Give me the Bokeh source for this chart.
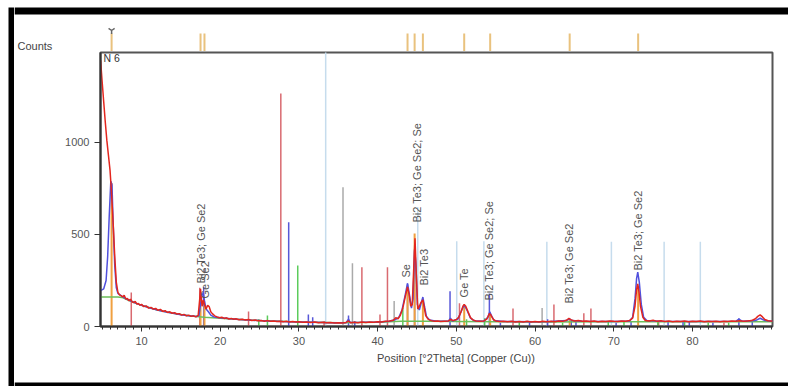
import math
from bokeh.plotting import figure
from bokeh.models import Range1d, FixedTicker, Label, BoxAnnotation, ColumnDataSource
from bokeh.layouts import column, row
from bokeh.embed import file_html
from bokeh.resources import INLINE
from bokeh.core.properties import value

# ---------------- data ----------------
meas_2theta = [4.8, 5.0, 5.2, 5.4, 5.6, 5.8, 6.0, 6.2, 6.4, 6.6, 6.8, 7.0, 7.2, 7.4, 7.6, 7.8,
               8.0, 8.2, 8.4, 8.6, 8.8, 9.0, 9.2, 9.4, 9.6, 9.8, 10.0, 10.3, 10.6, 10.9, 11.2,
               11.5, 11.8, 12.1, 12.4, 12.7, 13.0, 13.3, 13.6, 13.9, 14.2, 14.5, 14.8, 15.1,
               15.4, 15.7, 16.0, 16.3, 16.6, 16.9, 17.2, 17.4, 17.5, 17.6, 17.7, 17.85, 18.0,
               18.2, 18.4, 18.6, 18.8, 19.0, 19.3, 19.6, 19.9, 20.2, 20.5, 20.8, 21.1, 21.4,
               21.7, 22.0, 22.4, 22.8, 23.2, 23.6, 24.0, 24.4, 24.8, 25.2, 25.6, 26.0, 26.4,
               26.8, 27.2, 27.6, 28.0, 28.4, 28.8, 29.2, 29.6, 30.0, 30.5, 31.0, 31.5, 32.0,
               32.5, 33.0, 33.5, 34.0, 34.5, 35.0, 35.5, 36.0, 36.3, 36.6, 37.0, 37.5, 38.0,
               38.5, 39.0, 39.5, 40.0, 40.5, 41.0, 41.5, 42.0, 42.3, 42.6, 42.9, 43.2, 43.5,
               43.8, 44.0, 44.2, 44.4, 44.6, 44.75, 44.9, 45.1, 45.3, 45.5, 45.75, 45.9, 46.1,
               46.4, 46.8, 47.2, 47.6, 48.0, 48.5, 49.0, 49.3, 49.6, 50.0, 50.3, 50.6, 50.85,
               51.0, 51.2, 51.5, 51.8, 52.1, 52.5, 53.0, 53.5, 53.9, 54.2, 54.4, 54.7, 55.0,
               55.5, 56.0, 56.5, 57.0, 57.5, 58.0, 58.5, 59.0, 59.5, 60.0, 60.5, 61.0, 61.5,
               62.0, 62.5, 63.0, 63.5, 64.0, 64.3, 64.6, 65.0, 65.5, 66.0, 66.5, 67.0, 67.5,
               68.0, 68.5, 69.0, 69.5, 70.0, 70.5, 71.0, 71.5, 72.0, 72.4, 72.7, 72.9, 73.05,
               73.2, 73.4, 73.7, 74.0, 74.5, 75.0, 75.5, 76.0, 76.5, 77.0, 77.5, 78.0, 78.5,
               79.0, 79.5, 80.0, 80.5, 81.0, 81.5, 82.0, 82.5, 83.0, 83.5, 84.0, 84.5, 85.0,
               85.5, 86.0, 86.5, 87.0, 87.5, 88.0, 88.3, 88.6, 88.9, 89.2, 89.6, 90.0, 90.2]
meas_counts = [1446, 1330, 1220, 1110, 1010, 930, 850, 720, 560, 380, 240, 185, 172, 168, 160, 170,
               150, 152, 140, 148, 135, 130, 136, 122, 125, 116, 120, 108, 112, 100, 104,
               95, 98, 88, 93, 82, 86, 76, 80, 72, 75, 68, 70, 62,
               66, 58, 62, 55, 58, 52, 60, 150, 205, 150, 110, 145, 120,
               95, 115, 108, 80, 70, 58, 52, 48, 50, 44, 47, 41, 44,
               39, 42, 37, 39, 35, 38, 33, 35, 31, 33, 29, 32, 28,
               30, 27, 29, 26, 28, 25, 27, 24, 26, 23, 25, 22, 24,
               21, 23, 20, 22, 19, 21, 19, 22, 30, 20, 23, 21, 24,
               22, 25, 23, 26, 25, 28, 30, 34, 48, 42, 62, 100, 160,
               215, 175, 110, 120, 330, 480, 300, 95, 110, 130, 145, 110, 60,
               40, 32, 28, 30, 27, 29, 30, 38, 32, 38, 50, 80, 112,
               120, 110, 78, 48, 36, 30, 28, 30, 42, 70, 62, 38, 30,
               27, 29, 26, 28, 25, 27, 25, 28, 24, 27, 25, 28, 26,
               29, 26, 30, 28, 34, 44, 36, 30, 33, 28, 30, 27, 30,
               26, 29, 27, 30, 28, 27, 30, 28, 32, 45, 110, 200, 232,
               190, 110, 50, 33, 30, 34, 28, 31, 27, 30, 26, 29, 27,
               30, 26, 29, 27, 30, 26, 29, 27, 28, 26, 29, 27, 30,
               28, 31, 28, 30, 32, 42, 55, 63, 52, 38, 31, 30, 29]

calc_2theta = [4.8, 5.2, 5.5, 5.7, 5.9, 6.1, 6.25, 6.4, 6.6, 6.8, 7.0, 7.5, 8.0, 9.0, 10.0, 11.0,
               12.0, 13.0, 14.0, 15.0, 16.0, 17.0, 17.3, 17.5, 17.7, 17.85, 18.0, 18.2, 18.5,
               18.8, 19.2, 20.0, 22.0, 24.0, 26.0, 28.0, 30.0, 32.0, 34.0, 36.0, 36.3, 36.5,
               38.0, 40.0, 41.5, 42.3, 42.7, 43.1, 43.5, 43.8, 44.05, 44.3, 44.5, 44.7, 44.85,
               45.05, 45.3, 45.55, 45.75, 45.95, 46.2, 46.6, 47.5, 49.0, 49.25, 49.5, 50.2,
               50.6, 51.0, 51.4, 51.8, 52.3, 53.5, 54.0, 54.25, 54.5, 54.8, 56.0, 60.0, 62.0,
               64.0, 64.35, 64.7, 66.0, 70.0, 72.0, 72.4, 72.7, 72.9, 73.05, 73.25, 73.5, 73.8,
               74.2, 76.0, 80.0, 85.5, 85.9, 86.3, 88.0, 88.6, 89.2, 90.2]
calc_counts = [195, 205, 250, 380, 600, 790, 770, 560, 330, 210, 180, 165, 152, 132, 115, 102,
               90, 80, 72, 64, 58, 54, 60, 120, 175, 180, 140, 95, 80,
               62, 52, 47, 40, 34, 30, 27, 25, 23, 21, 21, 40, 22,
               23, 25, 29, 38, 50, 90, 170, 235, 170, 100, 150, 420, 350,
               120, 90, 130, 160, 110, 55, 35, 29, 29, 45, 30, 40,
               80, 118, 85, 45, 31, 29, 50, 80, 55, 33, 27, 26, 27,
               32, 42, 32, 28, 27, 30, 50, 150, 260, 295, 240, 120, 50,
               32, 28, 27, 28, 40, 29, 32, 45, 32, 28]

bg_2theta = [4.8, 7.0, 7.5, 8.5, 10.0, 12.0, 14.0, 16.0, 18.0, 20.0, 25.0, 30.0, 35.0, 40.0,
             43.0, 46.0, 50.0, 55.0, 60.0, 70.0, 80.0, 90.2]
bg_counts = [160, 160, 158, 140, 115, 90, 72, 58, 50, 45, 32, 25, 21, 23,
             28, 28, 27, 26, 25, 26, 26, 26]

# peak list (orange)
peak_2theta = [6.2, 17.5, 18.0, 43.8, 44.7, 45.75, 51.0, 54.3, 64.4, 73.1]
peak_height = [780, 150, 120, 210, 505, 150, 110, 60, 35, 220]

# reference patterns (sticks)
ref_red_x = [8.7, 17.4, 23.6, 27.7, 33.2, 38.0, 40.3, 41.25, 50.4, 57.2, 62.4, 66.2, 67.1, 75.7, 84.0]
ref_red_y = [185, 210, 82, 1266, 30, 322, 65, 322, 127, 98, 120, 72, 98, 25, 20]
ref_blue_x = [17.9, 28.7, 31.2, 31.75, 36.3, 37.1, 43.8, 44.7, 49.2, 54.2, 55.6, 59.3, 61.6,
              64.6, 65.2, 70.3, 72.2, 76.9, 78.8, 79.6, 82.6, 85.9, 87.6]
ref_blue_y = [215, 567, 65, 50, 60, 30, 230, 413, 192, 180, 20, 25, 40,
              30, 25, 20, 25, 25, 30, 25, 20, 45, 30]
ref_green_x = [24.9, 26.0, 29.85, 43.2, 51.3, 53.6, 58.0, 63.5, 69.3, 71.3, 75.6, 79.0, 82.0, 84.6]
ref_green_y = [40, 60, 332, 100, 40, 45, 25, 20, 25, 30, 25, 30, 20, 20]
ref_gray_x = [35.6, 36.8, 42.1, 60.9]
ref_gray_y = [757, 344, 138, 100]
ref_lblue_x = [33.4, 45.1, 50.05, 53.5, 61.5, 69.7, 76.4, 81.0]
ref_lblue_y = [1600, 650, 463, 463, 460, 460, 460, 460]

# peak annotations
ann_text = ["Bi2 Te3; Ge Se2", "Ge Se2", "Se", "Bi2 Te3; Ge Se2; Se", "Bi2 Te3", "Ge Te",
            "Bi2 Te3; Ge Se2; Se", "Bi2 Te3; Ge Se2", "Bi2 Te3; Ge Se2"]
ann_x = [17.5, 18.05, 43.6, 44.95, 45.9, 51.0, 54.15, 64.3, 73.1]
ann_y = [234, 152, 266, 565, 223, 158, 141, 125, 304]

x_ticks = [10, 20, 30, 40, 50, 60, 70, 80]
x_minor = list(range(5, 91))
y_ticks = [0, 500, 1000]

FONT = "Liberation Sans"
LEFT_W = 14                  # white margin + black frame band on the left
W = 788 - LEFT_W             # width of the right column
TOTAL_H = 386
X0, X1 = 4.79, 90.17         # plot range (frame spans page x 100..772)
PX_PER_DEG = 672 / (X1 - X0)
COL_X0 = X0 - (100 - LEFT_W) / PX_PER_DEG
COL_X1 = X0 + (788 - 100) / PX_PER_DEG


def bare(fig):
    fig.xgrid.visible = False
    fig.ygrid.visible = False
    fig.outline_line_color = None
    return fig


def band(fig, l, r, t, b):
    fig.add_layout(BoxAnnotation(left=l, right=r, top=t, bottom=b, left_units="canvas",
                                 right_units="canvas", top_units="canvas", bottom_units="canvas",
                                 fill_color="black", fill_alpha=1.0, line_color=None))


# ---------------- left frame band ----------------
left = bare(figure(frame_width=6, frame_height=TOTAL_H - 7, x_range=Range1d(0, 1),
                   y_range=Range1d(0, 1), min_border_left=8, min_border_right=0,
                   min_border_top=7, min_border_bottom=0, x_axis_type=None, y_axis_type=None,
                   background_fill_color="black", border_fill_color="white",
                   output_backend="svg", toolbar_location=None))

# ---------------- top strip: peak list marks ----------------
TOP_H = 51
top = bare(figure(frame_width=W, frame_height=TOP_H, x_range=Range1d(COL_X0, COL_X1),
                  y_range=Range1d(0, TOP_H), min_border_left=0, min_border_right=0,
                  min_border_top=0, min_border_bottom=0, x_axis_type=None, y_axis_type=None,
                  output_backend="svg", toolbar_location=None))
top.segment(x0=peak_2theta, y0=[0] * len(peak_2theta), x1=peak_2theta, y1=[18] * len(peak_2theta),
            line_color="#e9c27e", line_width=2)
top.scatter(x=[peak_2theta[0]], y=[21], marker="y", size=7, line_color="#666666", line_width=1.5)
top.add_layout(Label(x=-5.76, y=6, text="Counts", text_font=FONT, text_font_size="11px",
                     text_color="#444444", text_baseline="middle", text_align="left"))
band(top, 0, W, 7, 14)

# ---------------- main plot ----------------
MAIN_H = 1 + 274 + 25
p = figure(frame_width=672, frame_height=274, x_range=Range1d(X0, X1), y_range=Range1d(0, 1489),
           min_border_left=100 - LEFT_W, min_border_right=W - (100 - LEFT_W) - 672,
           min_border_top=1, min_border_bottom=25, output_backend="svg", toolbar_location=None)
p.xgrid.visible = False
p.ygrid.visible = False
p.outline_line_color = "#555555"
p.outline_line_width = 2


def sticks(xs, ys, color, w=1.5):
    p.segment(x0=xs, y0=[0] * len(xs), x1=xs, y1=ys, line_color=color, line_width=w)


sticks(ref_lblue_x, ref_lblue_y, "#c6dced")
sticks(ref_gray_x, ref_gray_y, "#aaaaaa")
sticks(ref_red_x, ref_red_y, "#d96a70")
sticks(ref_green_x, ref_green_y, "#5ccc5c")
sticks(ref_blue_x, ref_blue_y, "#5858d8")
sticks(peak_2theta, peak_height, "#f0a040", 2)

p.line(bg_2theta, bg_counts, line_color="#6cbf5a", line_width=1.5)
p.line(calc_2theta, calc_counts, line_color="#5050dd", line_width=1.5)
p.line(meas_2theta, meas_counts, line_color="#e3261e", line_width=1.5)

src = ColumnDataSource(dict(x=ann_x, y=ann_y, t=ann_text))
p.text(x="x", y="y", text="t", source=src, angle=math.pi / 2, text_align="left",
       text_baseline="middle", text_font=value(FONT), text_font_size="11px",
       text_color="#555555")

p.add_layout(Label(x=5.17, y=1457, text="N 6", text_font=FONT, text_font_size="10.5px",
                   text_color="#333333", text_baseline="middle", text_align="left"))

for ax in (p.xaxis[0], p.yaxis[0]):
    ax.axis_line_color = "#333333"
    ax.axis_line_width = 2
    ax.major_tick_line_color = "#333333"
    ax.minor_tick_line_color = "#333333"
    ax.major_label_text_font = FONT
    ax.major_label_text_font_size = "11px"
    ax.major_label_text_color = "#555555"
    ax.major_tick_in = 0
    ax.minor_tick_in = 0

p.xaxis.ticker = FixedTicker(ticks=x_ticks, minor_ticks=x_minor)
p.xaxis.major_tick_out = 5
p.xaxis.minor_tick_out = 3
p.xaxis.major_label_standoff = 5
p.yaxis.ticker = FixedTicker(ticks=y_ticks)
p.yaxis.major_tick_out = 6
p.yaxis.minor_tick_out = 0
p.yaxis.major_label_standoff = 5

# ---------------- footer: axis title and frame ----------------
FOOT_H = TOTAL_H - TOP_H - MAIN_H
foot = bare(figure(frame_width=W, frame_height=FOOT_H, x_range=Range1d(COL_X0, COL_X1),
                   y_range=Range1d(0, FOOT_H), min_border_left=0, min_border_right=0,
                   min_border_top=0, min_border_bottom=0, x_axis_type=None, y_axis_type=None,
                   output_backend="svg", toolbar_location=None))
foot.add_layout(Label(x=49.95, y=FOOT_H - 6, text="Position [°2Theta] (Copper (Cu))", text_font=FONT,
                      text_font_size="11px", text_color="#444444", text_baseline="middle",
                      text_align="center"))
band(foot, 0, W, FOOT_H - 4, FOOT_H)

# each figure sits in its own row so that Bokeh does not align the plot frames
layout = row(left, column(row(top, spacing=0), row(p, spacing=0), row(foot, spacing=0), spacing=0),
             spacing=0)
open("out.html", "w").write(file_html(layout, INLINE))
